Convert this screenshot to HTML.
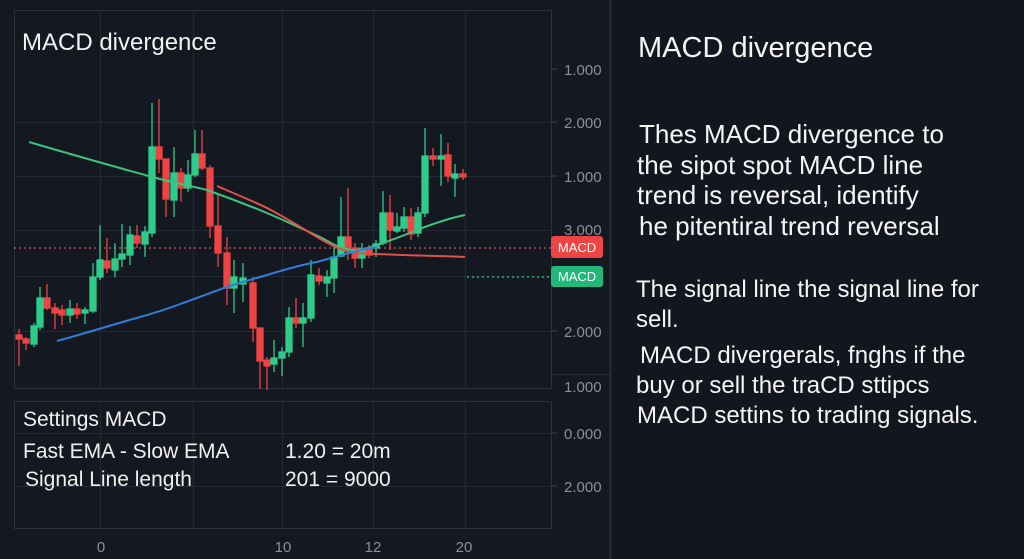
<!DOCTYPE html>
<html><head><meta charset="utf-8"><style>
html,body{margin:0;padding:0;background:#141821;width:1024px;height:559px;overflow:hidden}
svg{display:block}
text{font-family:"Liberation Sans",sans-serif}
</style></head><body>
<svg width="1024" height="559" viewBox="0 0 1024 559" xmlns="http://www.w3.org/2000/svg">
<rect width="1024" height="559" fill="#141821"/>
<rect x="611" y="0" width="413" height="559" fill="#12161f"/>
<line x1="610.5" y1="0" x2="610.5" y2="559" stroke="#2a303b" stroke-width="1.5"/>
<line x1="551" y1="374.5" x2="610" y2="374.5" stroke="#2a303b"/>
<g stroke="#232935" stroke-width="1">
<line x1="14" y1="122.5" x2="551" y2="122.5"/><line x1="14" y1="176.5" x2="551" y2="176.5"/>
<line x1="14" y1="230.5" x2="551" y2="230.5"/><line x1="14" y1="276.5" x2="551" y2="276.5"/>
<line x1="14" y1="331.5" x2="551" y2="331.5"/>
<line x1="100.5" y1="10" x2="100.5" y2="388"/><line x1="193.5" y1="10" x2="193.5" y2="388"/>
<line x1="282.5" y1="10" x2="282.5" y2="388"/><line x1="373.5" y1="10" x2="373.5" y2="388"/>
<line x1="465.5" y1="10" x2="465.5" y2="388"/>
<line x1="14" y1="433.5" x2="551" y2="433.5"/><line x1="14" y1="486.5" x2="551" y2="486.5"/>
<line x1="100.5" y1="401" x2="100.5" y2="528"/><line x1="193.5" y1="401" x2="193.5" y2="528"/>
<line x1="282.5" y1="401" x2="282.5" y2="528"/><line x1="373.5" y1="401" x2="373.5" y2="528"/>
<line x1="465.5" y1="401" x2="465.5" y2="528"/>
</g>
<rect x="14.5" y="10.5" width="537" height="378" fill="none" stroke="#2c323d"/>
<rect x="14.5" y="401.5" width="537" height="127" fill="none" stroke="#2c323d"/>
<g stroke="#3a404b"><line x1="551" y1="69" x2="557" y2="69"/><line x1="551" y1="122" x2="557" y2="122"/><line x1="551" y1="176" x2="557" y2="176"/><line x1="551" y1="331" x2="557" y2="331"/><line x1="551" y1="433" x2="557" y2="433"/><line x1="551" y1="486" x2="557" y2="486"/></g>
<g fill="#8a909a" font-size="15">
<text x="564" y="75">1.000</text><text x="564" y="128">2.000</text><text x="564" y="182">1.000</text>
<text x="564" y="235">3.000</text><text x="564" y="337">2.000</text><text x="564" y="392">1.000</text>
<text x="564" y="439">0.000</text><text x="564" y="492">2.000</text>
</g>
<g fill="#8a909a" font-size="15" text-anchor="middle">
<text x="101" y="552">0</text><text x="283" y="552">10</text><text x="373" y="552">12</text><text x="464" y="552">20</text>
</g>
<line x1="14" y1="248" x2="551" y2="248" stroke="#d9534f" stroke-dasharray="2,3" stroke-width="1.2"/>
<line x1="467" y1="277" x2="551" y2="277" stroke="#2ecc8a" stroke-dasharray="2,3" stroke-width="1.2"/>
<g stroke-width="1.3">
<g stroke="#ef4444" fill="#ef4444">
<line x1="19" y1="329" x2="19" y2="366"/><rect x="16" y="335" width="6" height="4"/>
<line x1="26" y1="337" x2="26" y2="350"/><rect x="23" y="339" width="6" height="4"/>
<line x1="47" y1="284" x2="47" y2="310"/><rect x="44" y="298" width="6" height="10"/>
<line x1="55" y1="303" x2="55" y2="329"/><rect x="52" y="308" width="6" height="5"/>
<line x1="62" y1="305" x2="62" y2="325"/><rect x="59" y="310" width="6" height="5"/>
<line x1="77" y1="303" x2="77" y2="319"/><rect x="74" y="309" width="6" height="5"/>
<line x1="107" y1="238" x2="107" y2="273"/><rect x="104" y="261" width="6" height="7"/>
<line x1="137" y1="225" x2="137" y2="248"/><rect x="134" y="236" width="6" height="7"/>
<line x1="159" y1="99" x2="159" y2="173"/><rect x="156" y="147" width="6" height="12"/>
<line x1="166" y1="159" x2="166" y2="217"/><rect x="163" y="159" width="6" height="40"/>
<line x1="181" y1="168" x2="181" y2="202"/><rect x="178" y="173" width="6" height="15"/>
<line x1="202" y1="130" x2="202" y2="170"/><rect x="199" y="154" width="6" height="14"/>
<line x1="210" y1="165" x2="210" y2="238"/><rect x="207" y="168" width="6" height="58"/>
<line x1="218" y1="195" x2="218" y2="267"/><rect x="215" y="226" width="6" height="27"/>
<line x1="227" y1="237" x2="227" y2="305"/><rect x="224" y="253" width="6" height="35"/>
<line x1="253" y1="277" x2="253" y2="342"/><rect x="250" y="283" width="6" height="45"/>
<line x1="260" y1="328" x2="260" y2="389"/><rect x="257" y="328" width="6" height="33"/>
<line x1="267" y1="357" x2="267" y2="390"/><rect x="264" y="360" width="6" height="6"/>
<line x1="296" y1="298" x2="296" y2="328"/><rect x="293" y="318" width="6" height="5"/>
<line x1="319" y1="268" x2="319" y2="285"/><rect x="316" y="276" width="6" height="5"/>
<line x1="348" y1="188" x2="348" y2="260"/><rect x="345" y="237" width="6" height="10"/>
<line x1="355" y1="243" x2="355" y2="268"/><rect x="352" y="248" width="6" height="10"/>
<line x1="369" y1="245" x2="369" y2="258"/><rect x="366" y="248" width="6" height="7"/>
<line x1="390" y1="195" x2="390" y2="250"/><rect x="387" y="213" width="6" height="17"/>
<line x1="411" y1="208" x2="411" y2="240"/><rect x="408" y="217" width="6" height="17"/>
<line x1="433" y1="148" x2="433" y2="166"/><rect x="430" y="156" width="6" height="3"/>
<line x1="448" y1="143" x2="448" y2="182"/><rect x="445" y="155" width="6" height="21"/>
<line x1="463" y1="169" x2="463" y2="180"/><rect x="460" y="174" width="6" height="3"/>
</g>
<g stroke="#2ecc8a" fill="#2ecc8a">
<line x1="34" y1="323" x2="34" y2="347"/><rect x="31" y="326" width="6" height="18"/>
<line x1="40" y1="287" x2="40" y2="330"/><rect x="37" y="298" width="6" height="29"/>
<line x1="70" y1="300" x2="70" y2="323"/><rect x="67" y="309" width="6" height="6"/>
<line x1="85" y1="307" x2="85" y2="324"/><rect x="82" y="310" width="6" height="3"/>
<line x1="93" y1="263" x2="93" y2="313"/><rect x="90" y="277" width="6" height="34"/>
<line x1="100" y1="225" x2="100" y2="280"/><rect x="97" y="260" width="6" height="17"/>
<line x1="115" y1="243" x2="115" y2="277"/><rect x="112" y="259" width="6" height="11"/>
<line x1="122" y1="224" x2="122" y2="267"/><rect x="119" y="254" width="6" height="5"/>
<line x1="130" y1="226" x2="130" y2="265"/><rect x="127" y="235" width="6" height="20"/>
<line x1="145" y1="226" x2="145" y2="257"/><rect x="142" y="232" width="6" height="12"/>
<line x1="152" y1="103" x2="152" y2="237"/><rect x="149" y="147" width="6" height="86"/>
<line x1="174" y1="147" x2="174" y2="217"/><rect x="171" y="173" width="6" height="27"/>
<line x1="188" y1="160" x2="188" y2="192"/><rect x="185" y="175" width="6" height="13"/>
<line x1="195" y1="130" x2="195" y2="177"/><rect x="192" y="154" width="6" height="21"/>
<line x1="234" y1="260" x2="234" y2="313"/><rect x="231" y="277" width="6" height="11"/>
<line x1="243" y1="263" x2="243" y2="302"/><rect x="240" y="278" width="6" height="6"/>
<line x1="274" y1="340" x2="274" y2="372"/><rect x="271" y="358" width="6" height="6"/>
<line x1="282" y1="347" x2="282" y2="376"/><rect x="279" y="352" width="6" height="6"/>
<line x1="289" y1="307" x2="289" y2="357"/><rect x="286" y="318" width="6" height="34"/>
<line x1="303" y1="303" x2="303" y2="347"/><rect x="300" y="318" width="6" height="5"/>
<line x1="311" y1="260" x2="311" y2="322"/><rect x="308" y="275" width="6" height="43"/>
<line x1="327" y1="270" x2="327" y2="297"/><rect x="324" y="277" width="6" height="6"/>
<line x1="334" y1="247" x2="334" y2="293"/><rect x="331" y="257" width="6" height="21"/>
<line x1="341" y1="197" x2="341" y2="257"/><rect x="338" y="237" width="6" height="19"/>
<line x1="362" y1="243" x2="362" y2="268"/><rect x="359" y="249" width="6" height="9"/>
<line x1="376" y1="240" x2="376" y2="257"/><rect x="373" y="244" width="6" height="4"/>
<line x1="383" y1="191" x2="383" y2="245"/><rect x="380" y="213" width="6" height="30"/>
<line x1="397" y1="213" x2="397" y2="233"/><rect x="394" y="227" width="6" height="4"/>
<line x1="404" y1="207" x2="404" y2="232"/><rect x="401" y="217" width="6" height="11"/>
<line x1="418" y1="207" x2="418" y2="237"/><rect x="415" y="213" width="6" height="20"/>
<line x1="425" y1="128" x2="425" y2="217"/><rect x="422" y="156" width="6" height="57"/>
<line x1="441" y1="134" x2="441" y2="186"/><rect x="438" y="156" width="6" height="3"/>
<line x1="455" y1="164" x2="455" y2="197"/><rect x="452" y="174" width="6" height="4"/>
</g>
</g>
<path d="M29,142 C80,157 120,168 152,177 C180,184 195,187 207,190 C235,200 250,206 267,213 C290,223 305,230 320,237 C330,242 335,246 340,247 C350,250 355,251 360,250 C370,248 375,246 383,243 C400,237 410,233 417,230 C435,223 450,218 465,215" fill="none" stroke="#3cc47e" stroke-width="2"/>
<path d="M217,186 C240,196 255,202 267,208 C290,220 305,230 317,237 C332,246 342,250 350,252 C362,254 370,254 377,254 C420,256 445,256 465,257" fill="none" stroke="#e0504a" stroke-width="2"/>
<path d="M57,341 C90,332 115,324 133,319 C155,313 170,308 183,303 C200,297 215,291 227,287 C245,281 257,278 267,275 C290,268 305,264 317,262 C335,257 345,254 353,252 C365,249 372,248 377,247" fill="none" stroke="#2f7fd8" stroke-width="2"/>
<rect x="551" y="236" width="52" height="22" rx="3" fill="#ef4444"/>
<text x="577" y="252" font-size="13" fill="#fff" text-anchor="middle">MACD</text>
<rect x="551" y="266" width="52" height="21" rx="3" fill="#22b87a"/>
<text x="577" y="281" font-size="13" fill="#fff" text-anchor="middle">MACD</text>
<text x="22" y="50" font-size="24" fill="#f2f2f2">MACD divergence</text>
<g fill="#f0f0f0" font-size="21">
<text x="23" y="426">Settings MACD</text>
<text x="23" y="458">Fast EMA - Slow EMA</text>
<text x="25" y="486">Signal Line length</text>
<text x="285" y="458">1.20 = 20m</text>
<text x="285" y="486">201 = 9000</text>
</g>
<text x="638" y="57" font-size="29" fill="#f5f5f5">MACD divergence</text>
<g fill="#f5f5f5" font-size="26">
<text x="639" y="143">Thes MACD divergence to</text>
<text x="637" y="174">the sipot spot MACD line</text>
<text x="637" y="204">trend is reversal, identify</text>
<text x="639" y="235">he pitentiral trend reversal</text>
</g>
<g fill="#f5f5f5" font-size="24">
<text x="636" y="297">The signal line the signal line for</text>
<text x="636" y="327">sell.</text>
<text x="640" y="363">MACD divergerals, fnghs if the</text>
<text x="636" y="393">buy or sell the traCD sttipcs</text>
<text x="637" y="423">MACD settins to trading signals.</text>
</g>
</svg>
</body></html>
